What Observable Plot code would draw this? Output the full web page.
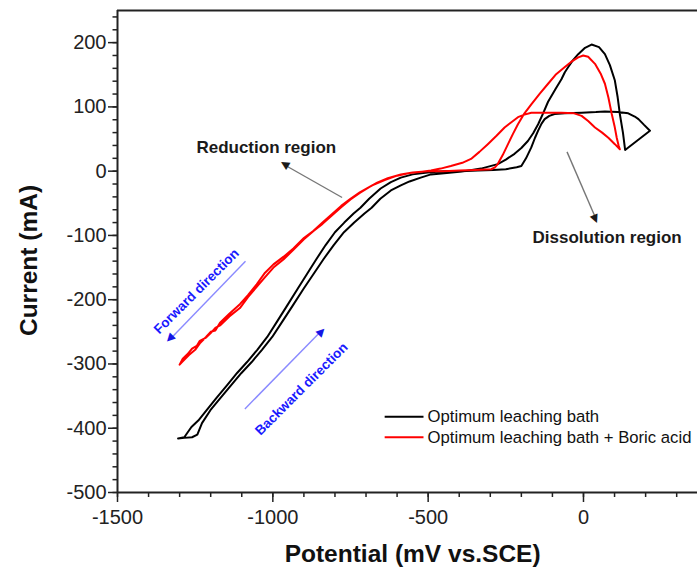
<!DOCTYPE html>
<html>
<head>
<meta charset="utf-8">
<script src="https://cdn.jsdelivr.net/npm/d3@7"></script>
<script src="https://cdn.jsdelivr.net/npm/@observablehq/plot@0.6"></script>
<style>
  html, body { margin: 0; padding: 0; background: #fff; }
  #chart svg { display: block; }
</style>
</head>
<body>
<div id="chart"></div>
<script>
// ---- Black loop: Optimum leaching bath ----
const blackPotential = [
  -1305,-1285,-1275,-1262,-1240,-1213,-1180,-1147,-1115,-1083,-1050,-1018,-985,-955,-920,-890,-860,-830,-800,-770,-740,-718,-690,-653,-620,-588,-550,-502,-450,-394,-340,-290,-250,-215,-200,-185,-168,-156,-146,-135,-125,-110,-93,-60,-6,40,69,110,144,165,177,195,214,
  134,127,117,110,101,85,69,50,26,5,-17,-35,-49,-60,-71,-90,-114,-130,-146,-162,-179,-200,-222,-250,-276,-330,-383,-440,-491,
  -524,-560,-588,-620,-654,-682,-705,-738,-771,-804,-837,-869,-901,-937,-968,-1002,-1035,-1068,-1101,-1134,-1167,-1201,-1228,-1243,-1260,-1285,-1305
];
const blackCurrent = [
  -416,-414,-407,-398,-388,-372,-352,-333,-314,-297,-278,-258,-233,-210,-183,-160,-137,-115,-95,-80,-66,-57,-43,-27,-17,-10,-5,-2,0,0,1,2,3,6,8,20,37,52,63,74,81,86,89,90,91,92,93,92,90,85,81,72,63,
  33,60,89,115,141,165,182,193,197,192,182,172,162,154,143,128,108,90,73,59,47,36,27,18,11,4,0,-3,-5,
  -10,-16,-22,-30,-43,-57,-66,-80,-95,-115,-137,-160,-183,-210,-233,-258,-278,-297,-314,-333,-352,-372,-392,-410,-414,-415,-416
];

// ---- Red loop: Optimum leaching bath + Boric acid ----
const redPotential = [
  -1300,-1290,-1275,-1260,-1245,-1235,-1215,-1200,-1185,-1170,-1140,-1106,-1080,-1052,-1025,-998,-965,-933,-900,-869,-840,-810,-780,-750,-720,-690,-664,-630,-588,-550,-502,-450,-400,-350,-297,-285,-276,-260,-243,-227,-211,-190,-168,-140,-114,-90,-60,-40,-17,-1,15,37,55,69,80,91,100,107,113,117,
  101,80,60,37,15,-6,-30,-71,-120,-168,-190,-211,-230,-254,-280,-308,-335,-362,-390,-427,-460,-491,-520,-560,-600,-640,-680,-720,-750,-780,-810,-840,-870,-900,-933,-965,-998,-1025,-1052,-1080,-1106,-1140,-1170,-1185,-1200,-1215,-1235,-1250,-1270,-1290,-1300
];
const redCurrent = [
  -301,-292,-285,-276,-272,-264,-259,-252,-244,-240,-226,-213,-196,-180,-165,-150,-137,-122,-106,-93,-82,-69,-56,-44,-34,-25,-18,-11,-5,-2,0,0,1,2,3,6,11,25,42,58,73,90,104,121,136,150,162,170,177,180,178,167,152,136,115,89,70,52,40,34,
  42,52,60,68,78,86,90,91,91,91,88,84,77,68,55,42,30,19,13,8,4,1,-1,-3,-7,-14,-22,-33,-43,-54,-67,-80,-93,-104,-120,-133,-145,-158,-176,-193,-207,-222,-236,-248,-250,-258,-268,-278,-286,-296,-301
];

// ---- Axes ----
const xMajorTicks = [-1500, -1000, -500, 0];
const xMinorTicks = [-1500,-1400,-1300,-1200,-1100,-1000,-900,-800,-700,-600,-500,-400,-300,-200,-100,0,100,200,300];
const yMajorTicks = [-500, -400, -300, -200, -100, 0, 100, 200];
const yMinorTicks = [-500,-480,-460,-440,-420,-400,-380,-360,-340,-320,-300,-280,-260,-240,-220,-200,-180,-160,-140,-120,-100,-80,-60,-40,-20,0,20,40,60,80,100,120,140,160,180,200,220,240];
const xTitle = "Potential (mV vs.SCE)";
const yTitle = "Current (mA)";
const xTitlePos = [-550, -500];   // [potential, current] anchor of x title
const yTitlePos = [-1500, -139];  // anchor of y title

// ---- Legend ----
const legendLabels = ["Optimum leaching bath", "Optimum leaching bath + Boric acid"];
const legendColors = ["#000000", "#ff0000"];
const legendY = [-382, -414];
const legendLineX = [-640, -515];
const legendTextX = -502;

// ---- Annotations ----
const noteLabels = ["Reduction region", "Dissolution region"];
const noteX = [-1021, 76];
const noteY = [37, -103];

const arrowX1 = [-777, -53, -1088, -1090];
const arrowY1 = [-41, 30, -140, -370];
const arrowX2 = [-963, 40, -1330, -845];
const arrowY2 = [10, -74, -261, -249];
const arrowColor = ["#777777", "#777777", "#8a8aff", "#8a8aff"];
const headColor = ["#1a1a1a", "#1a1a1a", "#1515e6", "#1515e6"];
const headAngle = [-149, 67, 134, -46];

const dirLabels = ["Forward direction", "Backward direction"];
const dirX = [-1246, -908];
const dirY = [-187, -339];

const blackData = blackPotential.map((x, i) => ({x, y: blackCurrent[i]}));
const redData = redPotential.map((x, i) => ({x, y: redCurrent[i]}));
const idx4 = [0, 1, 2, 3];

const font = "'Liberation Sans', Arial, Helvetica, sans-serif";

const chart = Plot.plot({
  width: 697,
  height: 567,
  marginLeft: 117,
  marginRight: 0,
  marginTop: 10,
  marginBottom: 75,
  x: {domain: [-1500, 367], axis: null},
  y: {domain: [-500, 250], axis: null},
  style: {fontFamily: font, background: "#fff", overflow: "visible"},
  marks: [
    // minor ticks
    Plot.axisX(xMinorTicks, {anchor: "bottom", tickSize: 5, tickFormat: () => "", label: null, color: "#222", strokeWidth: 1.5}),
    Plot.axisY(yMinorTicks, {anchor: "left", tickSize: 4.5, tickFormat: () => "", label: null, color: "#222", strokeWidth: 1.5}),
    // major ticks + labels
    Plot.axisX(xMajorTicks, {anchor: "bottom", tickSize: 10, tickPadding: 7, fontSize: 20, label: null, color: "#222", strokeWidth: 1.5, tickFormat: d => String(d)}),
    Plot.axisY(yMajorTicks, {anchor: "left", tickSize: 9, tickPadding: 2, fontSize: 20, label: null, color: "#222", strokeWidth: 1.5, tickFormat: d => String(d)}),
    // frame lines (left, bottom, top)
    Plot.ruleX([-1500], {stroke: "#222", strokeWidth: 2}),
    Plot.ruleY([-500, 250], {stroke: "#222", strokeWidth: 2}),
    // data
    Plot.line(blackData, {x: "x", y: "y", stroke: "#000", strokeWidth: 2, strokeLinejoin: "round"}),
    Plot.line(redData, {x: "x", y: "y", stroke: "#ff0000", strokeWidth: 2, strokeLinejoin: "round"}),
    // annotation arrows
    Plot.link(idx4, {x1: i => arrowX1[i], y1: i => arrowY1[i], x2: i => arrowX2[i], y2: i => arrowY2[i], stroke: i => arrowColor[i], strokeWidth: 1.4}),
    Plot.text(idx4, {x: i => arrowX2[i], y: i => arrowY2[i], text: () => "\u25B6", rotate: i => headAngle[i], fill: i => headColor[i], fontSize: 11, fontFamily: "'DejaVu Sans', sans-serif"}),
    Plot.text(noteLabels, {x: (d, i) => noteX[i], y: (d, i) => noteY[i], text: d => d, fontSize: 17, fontWeight: "bold", fill: "#1a1a1a"}),
    Plot.text(dirLabels, {x: (d, i) => dirX[i], y: (d, i) => dirY[i], text: d => d, rotate: -45, fontSize: 13.5, fontWeight: "bold", fill: "#1a1aff"}),
    // legend
    Plot.link(legendLabels, {x1: legendLineX[0], x2: legendLineX[1], y1: (d, i) => legendY[i], y2: (d, i) => legendY[i], stroke: (d, i) => legendColors[i], strokeWidth: 2}),
    Plot.text(legendLabels, {x: legendTextX, y: (d, i) => legendY[i], text: d => d, textAnchor: "start", fontSize: 16.7, fill: "#111"}),
    // axis titles
    Plot.text([xTitle], {x: xTitlePos[0], y: xTitlePos[1], text: d => d, dy: 62, fontSize: 24.5, fontWeight: "bold", fill: "#111"}),
    Plot.text([yTitle], {x: yTitlePos[0], y: yTitlePos[1], text: d => d, dx: -88, rotate: -90, fontSize: 24.5, fontWeight: "bold", fill: "#111"})
  ]
});
document.getElementById("chart").appendChild(chart);
</script>
</body>
</html>
